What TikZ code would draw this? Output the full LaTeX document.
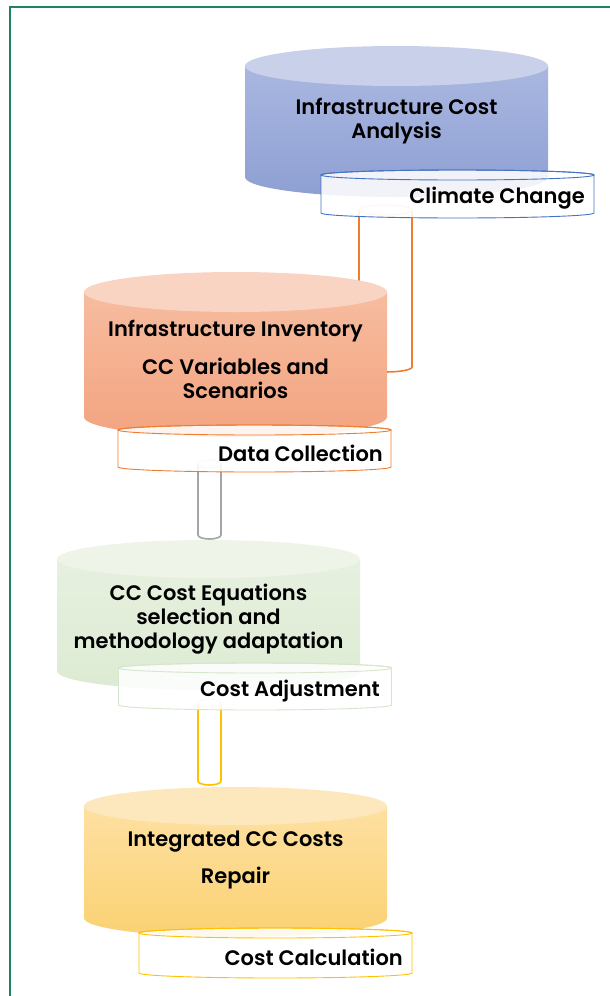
\documentclass[tikz,border=0pt]{standalone}
\usepackage{fontspec}
\setmainfont{Poppins}[UprightFont=* Medium, BoldFont=* SemiBold]
\definecolor{FrameGreen}{HTML}{1E8464}
\definecolor{BlueTop}{HTML}{C9D1EA}
\definecolor{BlueHigh}{HTML}{A9B7E0}
\definecolor{BlueLow}{HTML}{8E9FD3}
\definecolor{BlueLine}{HTML}{4472C4}
\definecolor{OrangeTop}{HTML}{F9D4C3}
\definecolor{OrangeHigh}{HTML}{F6BC9F}
\definecolor{OrangeLow}{HTML}{F3A480}
\definecolor{OrangeLine}{HTML}{ED7D31}
\definecolor{GreenTop}{HTML}{EEF4E8}
\definecolor{GreenHigh}{HTML}{E6F0DF}
\definecolor{GreenLow}{HTML}{DDEBD3}
\definecolor{GreenLine}{HTML}{D5E6CA}
\definecolor{GrayLine}{HTML}{A5A5A5}
\definecolor{YellowTop}{HTML}{FDE8BD}
\definecolor{YellowHigh}{HTML}{FDE0A2}
\definecolor{YellowLow}{HTML}{FBD172}
\definecolor{YellowLine}{HTML}{FFC000}

% big drum: centre x, top y, bottom y, x radius, y radius, lid colour, upper colour, lower colour
\newcommand{\drum}[8]{%
  \shade[top color=#7, bottom color=#8] ({#1-#4},#2) -- ({#1-#4},#3)
    arc[start angle=180, end angle=0, x radius=#4, y radius=#5] -- ({#1+#4},#2) -- cycle;
  \fill[#6] (#1,#2) ellipse[x radius=#4, y radius=#5];
}
% flat plate: centre x, top y, bottom y, x radius, y radius, line colour
\newcommand{\plate}[6]{%
  \filldraw[draw=#6, fill=white, fill opacity=0.88, line width=0.9pt] ({#1-#4},#2) -- ({#1-#4},#3)
    arc[start angle=180, end angle=0, x radius=#4, y radius=#5] -- ({#1+#4},#2)
    arc[start angle=0, end angle=-180, x radius=#4, y radius=#5] -- cycle;
  \draw[#6, line width=0.9pt] (#1,#2) ellipse[x radius=#4, y radius=#5];
}
% thin pipe: centre x, top y, bottom y, x radius, y radius, line colour
\newcommand{\pipe}[6]{%
  \draw[#6, line width=1.6pt] ({#1-#4},#2) -- ({#1-#4},#3)
    arc[start angle=180, end angle=0, x radius=#4, y radius=#5] -- ({#1+#4},#2);
  \draw[#6!50, line width=1pt] (#1,#2) ellipse[x radius=#4, y radius=#5];
}

\begin{document}
\begin{tikzpicture}[x=1pt, y=-1pt,
    drumtext/.style={font=\fontsize{21}{24}\selectfont\bfseries, align=center, text=black, inner sep=0pt},
    tagtext/.style={font=\fontsize{21}{24}\selectfont\bfseries, anchor=east, text=black, inner sep=0pt},
    frameline/.style={FrameGreen, line width=1.5pt}]
    \useasboundingbox (0,0) rectangle (610,996);

    % Frame (left and top edges only)
    \draw[frameline] (10,996) -- (10,7) -- (610,7);

    % Level 1 - Infrastructure Cost Analysis
    \drum{396.5}{66}{177}{151.5}{20}{BlueTop}{BlueHigh}{BlueLow}
    \node[drumtext] (costanalysis) at (396.5,121) {Infrastructure Cost\\Analysis};
    \pipe{385.5}{210}{367}{26.5}{5}{OrangeLine}
    \plate{457.5}{175}{213}{136.5}{5}{BlueLine}
    \node[tagtext] (climate) at (585,198) {Climate Change};

    % Level 2 - Infrastructure Inventory
    \drum{235.5}{292}{417}{151.5}{20}{OrangeTop}{OrangeHigh}{OrangeLow}
    \node[drumtext] (inventory) at (235.5,331) {Infrastructure Inventory};
    \node[drumtext] (variables) at (235.5,378) {CC Variables and\\Scenarios};
    \pipe{209.5}{464}{535}{11.5}{4}{GrayLine}
    \plate{254.5}{430}{467}{136.5}{5}{OrangeLine}
    \node[tagtext] (datacoll) at (383,453) {Data Collection};

    % Level 3 - CC Cost Equations
    \drum{208.5}{559}{671}{151.5}{19}{GreenTop}{GreenHigh}{GreenLow}
    \node[drumtext] (equations) at (208.5,619) {CC Cost Equations\\selection and\\methodology adaptation};
    \pipe{209.5}{703}{781}{11.5}{4}{YellowLine}
    \plate{255}{668}{705}{136.5}{5}{GreenLine}
    \node[tagtext] (adjust) at (380,691) {Cost Adjustment};

    % Level 4 - Integrated CC Costs
    \drum{235.5}{806}{918}{151.5}{19}{YellowTop}{YellowHigh}{YellowLow}
    \node[drumtext] (integrated) at (235.5,842) {Integrated CC Costs};
    \node[drumtext] (repair) at (235.5,878) {Repair};
    \plate{275.5}{933}{973}{136.5}{5}{YellowLine}
    \node[tagtext] (calc) at (403,957) {Cost Calculation};

\end{tikzpicture}
\end{document}
